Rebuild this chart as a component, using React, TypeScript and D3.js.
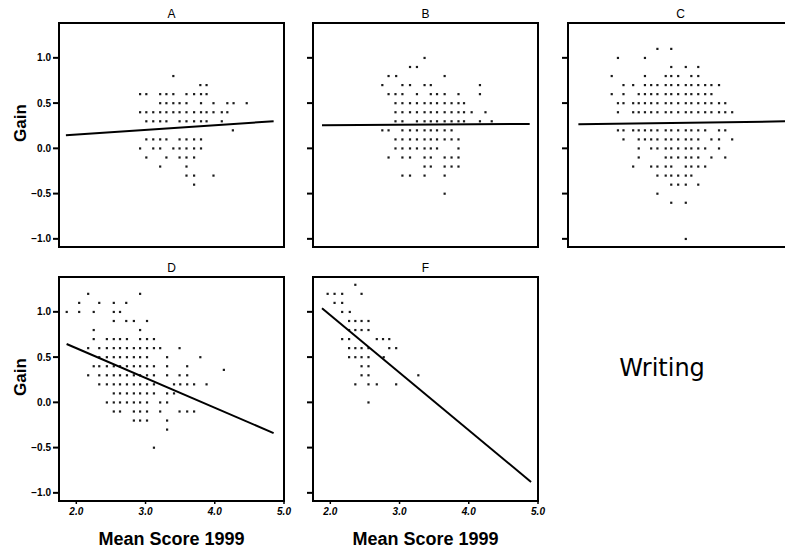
import React from 'react';
import * as d3 from 'd3';

const W = 785;
const H = 548;

const xDomain: [number, number] = [1.75, 5.0];
const yDomain: [number, number] = [-1.09, 1.385];
const xTicks = [2.0, 3.0, 4.0, 5.0];
const yTicks = [1.0, 0.5, 0.0, -0.5, -1.0];
const panelNames = ['A', 'B', 'C', 'D', 'F'];

type Row = [number, number[]];

// rows of points: [gain, mean scores]
const pointsA: Row[] = [
  [0.8, [3.40]],
  [0.7, [3.79, 3.88]],
  [0.6, [2.92, 3.01, 3.21, 3.30, 3.40, 3.59, 3.70, 3.80, 3.88]],
  [0.5, [3.21, 3.30, 3.40, 3.49, 3.59, 3.80, 3.98, 4.18, 4.27, 4.46]],
  [0.4, [2.92, 3.01, 3.11, 3.21, 3.30, 3.40, 3.49, 3.59, 3.70, 3.80, 3.88, 3.98, 4.10, 4.18]],
  [0.3, [3.01, 3.11, 3.21, 3.30, 3.49, 3.59, 3.70, 3.80, 3.88, 4.10]],
  [0.2, [4.26]],
  [0.1, [3.01, 3.11, 3.21, 3.30, 3.49, 3.59, 3.70, 3.80]],
  [0.0, [2.92, 3.11, 3.21, 3.40, 3.49, 3.59, 3.70, 3.80]],
  [-0.1, [3.01, 3.30, 3.49, 3.59, 3.70]],
  [-0.2, [3.21, 3.59]],
  [-0.3, [3.59, 3.70, 3.98]],
  [-0.4, [3.70]],
];

const pointsB: Row[] = [
  [1.0, [3.36]],
  [0.9, [3.15, 3.25]],
  [0.8, [2.84, 2.95, 3.65]],
  [0.7, [2.75, 3.04, 3.15, 3.36, 3.45, 4.16]],
  [0.6, [2.84, 2.94, 3.04, 3.25, 3.45, 3.54, 3.65, 3.85, 4.16]],
  [0.5, [2.94, 3.04, 3.15, 3.25, 3.36, 3.45, 3.54, 3.65, 3.75, 3.85, 3.93]],
  [0.4, [2.94, 3.04, 3.15, 3.25, 3.36, 3.45, 3.54, 3.65, 3.75, 3.85, 3.93, 4.04, 4.24]],
  [0.3, [2.94, 3.04, 3.25, 3.36, 3.45, 3.54, 3.65, 3.75, 3.85, 3.93, 4.16, 4.33]],
  [0.2, [2.75, 2.84, 3.04, 3.15, 3.25, 3.36, 3.45, 3.54, 3.65, 3.75]],
  [0.1, [2.94, 3.04, 3.15, 3.25, 3.36, 3.45, 3.54, 3.65, 3.75, 3.85]],
  [0.0, [2.94, 3.04, 3.15, 3.25, 3.36, 3.45, 3.54, 3.85]],
  [-0.1, [2.84, 3.04, 3.15, 3.36, 3.45, 3.65, 3.75, 3.85]],
  [-0.2, [3.36, 3.45, 3.65, 3.75, 3.85]],
  [-0.3, [3.04, 3.15, 3.36, 3.65]],
  [-0.5, [3.65]],
];

const pointsC: Row[] = [
  [1.1, [3.04, 3.24]],
  [1.0, [2.47, 2.86]],
  [0.9, [3.24, 3.45, 3.63]],
  [0.8, [2.38, 2.86, 3.16, 3.24, 3.34, 3.53, 3.63]],
  [0.7, [2.55, 2.69, 2.86, 2.95, 3.04, 3.16, 3.24, 3.34, 3.45, 3.53, 3.63, 3.73, 3.82, 3.93]],
  [0.6, [2.38, 2.55, 2.77, 2.86, 2.95, 3.04, 3.16, 3.24, 3.34, 3.45, 3.53, 3.63, 3.73, 3.82]],
  [0.5, [2.47, 2.55, 2.69, 2.77, 2.86, 2.95, 3.04, 3.16, 3.24, 3.34, 3.45, 3.53, 3.63, 3.73, 3.82, 3.93, 4.02]],
  [0.4, [2.47, 2.69, 2.77, 2.86, 2.95, 3.04, 3.16, 3.24, 3.34, 3.45, 3.53, 3.63, 3.73, 3.82, 3.93, 4.02, 4.12]],
  [0.2, [2.47, 2.55, 2.69, 2.77, 2.86, 2.95, 3.04, 3.16, 3.24, 3.34, 3.45, 3.53, 3.63, 3.73, 3.93, 4.02]],
  [0.1, [2.55, 2.77, 2.86, 2.95, 3.04, 3.16, 3.24, 3.34, 3.45, 3.53, 3.63, 3.82, 3.93, 4.12]],
  [0.0, [2.77, 2.95, 3.04, 3.16, 3.24, 3.34, 3.45, 3.53, 3.63, 3.73, 3.93]],
  [-0.1, [2.77, 3.16, 3.24, 3.34, 3.45, 3.53, 3.63, 3.82, 4.02]],
  [-0.2, [2.69, 2.95, 3.04, 3.16, 3.24, 3.45, 3.53, 3.63, 3.73]],
  [-0.3, [3.04, 3.16, 3.24, 3.34, 3.45, 3.53]],
  [-0.4, [3.24, 3.34, 3.45, 3.63]],
  [-0.5, [3.04]],
  [-0.6, [3.24, 3.45]],
  [-1.0, [3.45]],
];

const pointsD: Row[] = [
  [1.2, [2.17, 2.92]],
  [1.1, [2.04, 2.33, 2.54, 2.72]],
  [1.0, [1.86, 2.04, 2.25, 2.54, 2.63]],
  [0.9, [2.54, 2.72, 2.83, 3.02]],
  [0.8, [2.25, 2.92]],
  [0.7, [2.25, 2.44, 2.54, 2.63, 2.73, 2.92, 3.02, 3.12]],
  [0.6, [2.17, 2.33, 2.44, 2.54, 2.63, 2.73, 2.83, 2.92, 3.02, 3.12, 3.21, 3.49]],
  [0.5, [2.33, 2.44, 2.54, 2.63, 2.73, 2.83, 2.92, 3.02, 3.31, 3.79]],
  [0.4, [2.25, 2.33, 2.44, 2.54, 2.63, 2.73, 2.83, 2.92, 3.02, 3.12, 3.31, 3.60]],
  [0.36, [4.13]],
  [0.3, [2.17, 2.33, 2.44, 2.54, 2.63, 2.73, 2.83, 2.92, 3.02, 3.12, 3.31, 3.49, 3.60]],
  [0.2, [2.33, 2.44, 2.54, 2.63, 2.73, 2.83, 2.92, 3.02, 3.12, 3.41, 3.50, 3.60, 3.70, 3.88]],
  [0.1, [2.54, 2.63, 2.73, 2.83, 2.92, 3.02, 3.12, 3.31, 3.41]],
  [0.0, [2.44, 2.54, 2.63, 2.73, 2.83, 2.92, 3.02, 3.21, 3.31]],
  [-0.1, [2.54, 2.63, 2.83, 2.92, 3.02, 3.21, 3.49, 3.60, 3.70]],
  [-0.2, [2.83, 2.92, 3.02, 3.31]],
  [-0.3, [3.31]],
  [-0.5, [3.12]],
];

const pointsF: Row[] = [
  [1.3, [2.36]],
  [1.2, [1.96, 2.06, 2.17, 2.45]],
  [1.1, [2.06, 2.17]],
  [1.0, [2.17, 2.28]],
  [0.9, [2.27, 2.36, 2.45, 2.55]],
  [0.8, [2.27, 2.36, 2.45, 2.55]],
  [0.7, [2.17, 2.27, 2.67, 2.76, 2.85]],
  [0.6, [2.27, 2.36, 2.45, 2.55, 2.85, 2.95]],
  [0.5, [2.27, 2.36, 2.45, 2.55, 2.77]],
  [0.4, [2.45, 2.55]],
  [0.3, [2.45, 2.55, 3.27]],
  [0.2, [2.36, 2.55, 2.67, 2.95]],
  [0.0, [2.55]],
];

// fitted lines: [[x0, y0], [x1, y1]]
const fitA: [number, number][] = [[1.85, 0.145], [4.85, 0.30]];
const fitB: [number, number][] = [[1.88, 0.255], [4.88, 0.27]];
const fitC: [number, number][] = [[1.90, 0.265], [5.0, 0.30]];
const fitD: [number, number][] = [[1.86, 0.645], [4.85, -0.34]];
const fitF: [number, number][] = [[1.88, 1.04], [4.90, -0.88]];

const PW = 225;
const PH = 224;

const layout = [
  { name: panelNames[0], left: 59, top: 23, pts: pointsA, fit: fitA, yLabels: true, xLabels: false },
  { name: panelNames[1], left: 313, top: 23, pts: pointsB, fit: fitB, yLabels: false, xLabels: false },
  { name: panelNames[2], left: 568, top: 23, pts: pointsC, fit: fitC, yLabels: false, xLabels: false },
  { name: panelNames[3], left: 59, top: 277, pts: pointsD, fit: fitD, yLabels: true, xLabels: true },
  { name: panelNames[4], left: 313, top: 277, pts: pointsF, fit: fitF, yLabels: false, xLabels: true },
];

const FONT = 'Arial, "Liberation Sans", Helvetica, sans-serif';

function Panel(p: typeof layout[number]) {
  const x = d3.scaleLinear().domain(xDomain).range([p.left, p.left + PW]);
  const y = d3.scaleLinear().domain(yDomain).range([p.top + PH, p.top]);
  const line = d3.line<[number, number]>().x((d) => x(d[0])).y((d) => y(d[1]));
  const dots: [number, number][] = [];
  p.pts.forEach(([g, xs]) => xs.forEach((s) => dots.push([s, g])));
  const bottom = p.top + PH;
  return (
    <g>
      <text x={p.left + PW / 2} y={p.top - 5} textAnchor="middle" fontSize={12} fontFamily={FONT}>{p.name}</text>
      {dots.map((d, i) => (
        <rect key={i} x={x(d[0]) - 1} y={y(d[1]) - 1} width={2.2} height={2.2} fill="#1a1a1a" />
      ))}
      <path d={line(p.fit) || ''} stroke="#000" strokeWidth={2} fill="none" />
      <rect x={p.left} y={p.top} width={PW} height={PH} fill="none" stroke="#000" strokeWidth={2} />
      {yTicks.map((t) => (
        <g key={t}>
          <line x1={p.left - 6} x2={p.left} y1={y(t)} y2={y(t)} stroke="#000" strokeWidth={2} />
          {p.yLabels && (
            <text x={p.left - 8} y={y(t)} dy="0.35em" textAnchor="end" fontSize={10} fontWeight={600} fontFamily={FONT}>
              {d3.format('.1f')(t)}
            </text>
          )}
        </g>
      ))}
      {p.xLabels && xTicks.map((t) => (
        <g key={t}>
          <line x1={x(t)} x2={x(t)} y1={bottom} y2={bottom + 3} stroke="#000" strokeWidth={1.5} />
          <text x={x(t)} y={bottom + 14} textAnchor="middle" fontSize={10} fontWeight={600} fontStyle="italic" fontFamily={FONT}>
            {d3.format('.1f')(t)}
          </text>
        </g>
      ))}
      {p.xLabels && (
        <text x={p.left + PW / 2} y={545} textAnchor="middle" fontSize={18} fontWeight="bold" fontFamily={FONT}>
          Mean Score 1999
        </text>
      )}
      {p.yLabels && (
        <text transform={`translate(26, ${p.top + PH / 2 - 12}) rotate(-90)`} textAnchor="middle" fontSize={17} fontWeight="bold" fontFamily={FONT}>
          Gain
        </text>
      )}
    </g>
  );
}

export default function App() {
  return (
    <svg width={W} height={H} style={{ position: 'absolute', left: 0, top: 0, background: '#fff' }}>
      <rect x={0} y={0} width={W} height={H} fill="#fff" />
      {layout.map((p) => (
        <Panel key={p.name} {...p} />
      ))}
      <text x={662} y={376} textAnchor="middle" fontSize={24} fontFamily='"DejaVu Sans", Verdana, sans-serif'>Writing</text>
    </svg>
  );
}
